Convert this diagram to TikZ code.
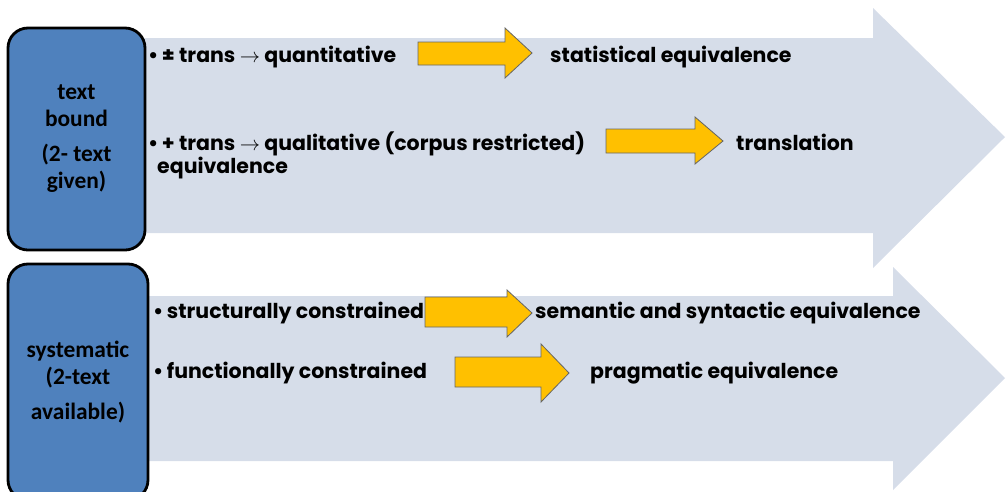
\documentclass[tikz,border=0pt]{standalone}
\usepackage{fontspec}
\setmainfont{Poppins}
\newfontfamily\boxfont{Carlito}
\usetikzlibrary{positioning}
\usepackage{xcolor}
\definecolor{BoxBlue}{HTML}{4F81BD}
\definecolor{BandGray}{RGB}{214,221,233}
\definecolor{ArrowYellow}{HTML}{FFC000}

\begin{document}
\begin{tikzpicture}[
    x=0.03cm, y=-0.03cm,
    catbox/.style={
        draw=black,
        line width=2.4pt,
        fill=BoxBlue,
        rounded corners=0.6cm,
        align=center,
        font=\boxfont\bfseries\fontsize{20}{23}\selectfont
    },
    item/.style={
        anchor=base west,
        inner sep=0pt,
        font=\bfseries\fontsize{17.5}{20}\selectfont
    },
    band/.style={
        fill=BandGray
    },
    yarrow/.style={
        fill=ArrowYellow,
        draw=black!60,
        line width=0.7pt
    }
]

\useasboundingbox (0,0) rectangle (1008,491);

% big background arrows
\fill[band] (140,38) -- (873,38) -- (873,8) -- (1005,137) -- (873,268) -- (873,233) -- (140,233) -- cycle;
\fill[band] (140,296) -- (893,296) -- (893,267) -- (1005,378) -- (893,490) -- (893,461) -- (140,461) -- cycle;

\node[catbox, minimum width=4.11cm, minimum height=6.66cm] (bound) at (76.5,139)
    {text\\bound\\[7pt](2- text\\given)};
\node[catbox, minimum width=4.2cm, minimum height=7.08cm] (system) at (78,382)
    {systematic\\(2-text\\[7pt]available)};

% yellow arrows
\draw[yarrow] (418,42) -- (505,42) -- (505,28) -- (532,53) -- (505,78) -- (505,65) -- (418,65) -- cycle;
\draw[yarrow] (606,129) -- (695,129) -- (695,117) -- (723,141) -- (695,164) -- (695,153) -- (606,153) -- cycle;
\draw[yarrow] (425,297) -- (507,297) -- (507,290) -- (532,313) -- (507,337) -- (507,327) -- (425,327) -- cycle;
\draw[yarrow] (455,357) -- (541,357) -- (541,344) -- (569,373) -- (541,402) -- (541,387) -- (455,387) -- cycle;

\node[item] (quant) at (148,62) {\textbullet\,± trans $\rightarrow$ quantitative};
\node[item] (stat) at (550,62) {statistical equivalence};
\node[item] (qual) at (148,150) {\textbullet\,+ trans $\rightarrow$ qualitative (corpus restricted)};
\node[item] (qualeq) at (157,173) {equivalence};
\node[item] (transl) at (736,150) {translation};

\node[item] (struct) at (153,318) {\textbullet\,structurally constrained};
\node[item] (semsyn) at (535,318) {semantic and syntactic equivalence};
\node[item] (func) at (153,378) {\textbullet\,functionally constrained};
\node[item] (prag) at (590,378) {pragmatic equivalence};

\end{tikzpicture}
\end{document}
